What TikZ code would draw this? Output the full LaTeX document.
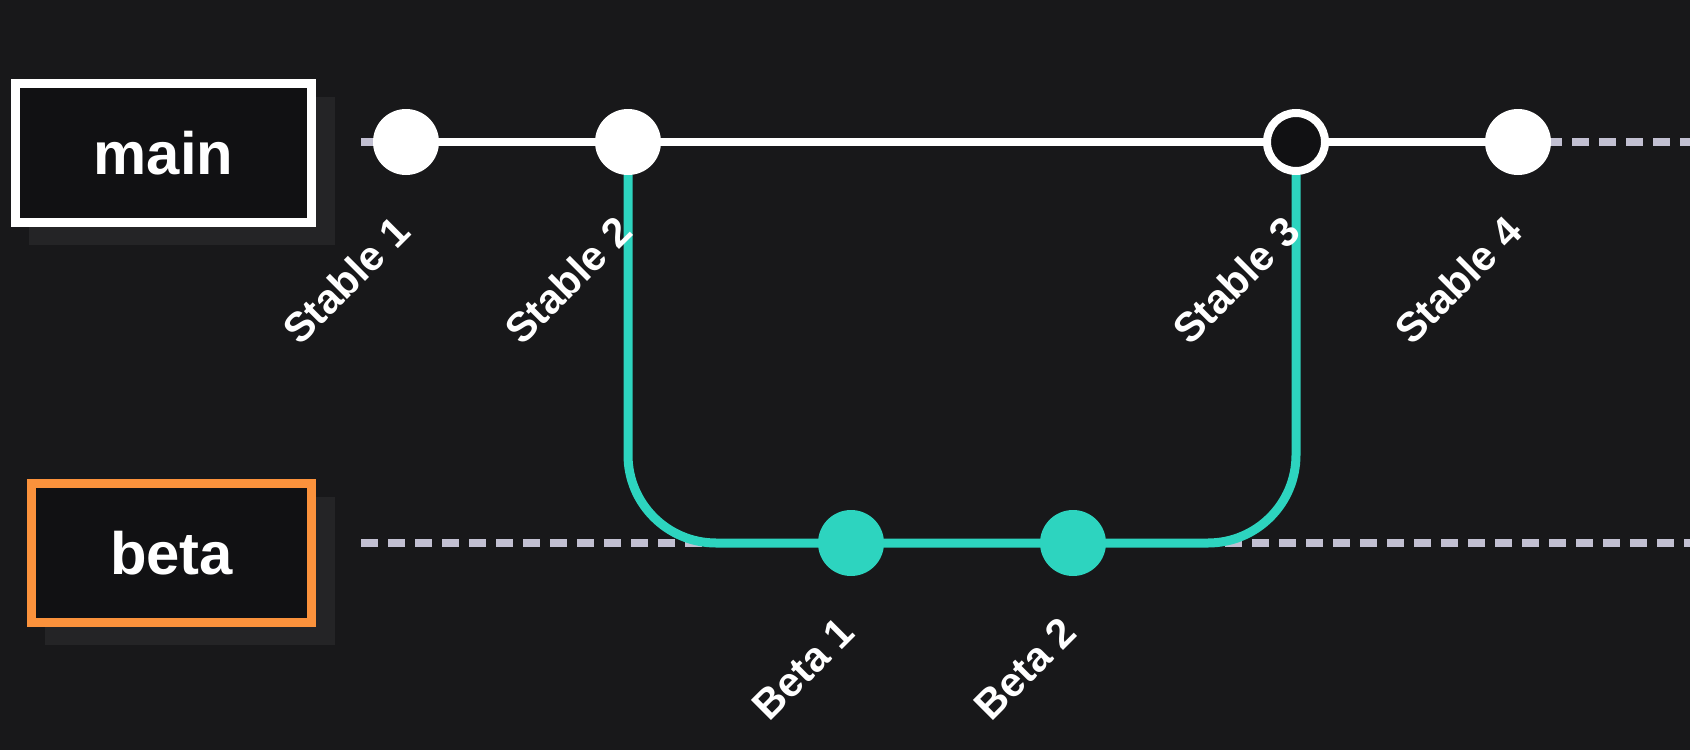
\documentclass[tikz,border=0pt]{standalone}
\usepackage{fontspec}
\setmainfont{Liberation Sans}
\definecolor{bgc}{HTML}{18181A}
\definecolor{boxfill}{HTML}{111113}
\definecolor{shadowc}{HTML}{242426}
\definecolor{tealc}{HTML}{2DD4BF}
\definecolor{orangec}{HTML}{FB923C}
\definecolor{dashc}{HTML}{C2C0D2}
\begin{document}
\begin{tikzpicture}[x=1bp,y=-1bp,
  commit/.style={circle, fill=white, minimum size=66bp, inner sep=0pt},
  betacommit/.style={circle, fill=tealc, minimum size=66bp, inner sep=0pt},
  opencommit/.style={circle, fill=boxfill, draw=white, line width=8bp, minimum size=58bp, inner sep=0pt},
  branchbox/.style={fill=boxfill, line width=9bp, minimum height=139bp, inner sep=0pt,
     text=white, font=\bfseries\fontsize{60}{72}\selectfont},
  lbl/.style={text=white, font=\bfseries\fontsize{41.5}{50}\selectfont, rotate=45, anchor=east, inner sep=0pt},
  dashline/.style={draw=dashc, line width=8bp, dash pattern=on 17bp off 10bp},
  mainline/.style={draw=white, line width=8.5bp},
  betaline/.style={draw=tealc, line width=9bp, rounded corners=88bp}]
\fill[bgc] (0,0) rectangle (1690,750);
\useasboundingbox (0,0) rectangle (1690,750);
% shadows
\fill[shadowc] (29,97) rectangle (335,245);
\fill[shadowc] (45,497) rectangle (335,645);
% coordinates
\coordinate (p1) at (406,142);
\coordinate (p2) at (628,142);
\coordinate (p3) at (1296,142);
\coordinate (p4) at (1518,142);
\coordinate (q1) at (851,543);
\coordinate (q2) at (1073,543);
\coordinate (ms) at (361,142);
\coordinate (me) at (1690,142);
\coordinate (bs) at (361,543);
\coordinate (be) at (1690,543);
% lines
\draw[dashline] (ms) -- (p1);
\draw[dashline] (p4) -- (me);
\draw[dashline] (bs) -- (be);
\draw[mainline] (p1) -- (p4);
\draw[betaline] (p2) -- (p2 |- q1) -- (p3 |- q1) -- (p3);
% branch boxes
\node[branchbox, draw=white, minimum width=296bp] (main) at (163.5,153) {main};
\node[branchbox, draw=orangec, minimum width=280bp] (beta) at (171.5,553) {beta};
% commits
\node[commit] (s1) at (p1) {};
\node[commit] (s2) at (p2) {};
\node[opencommit] (s3) at (p3) {};
\node[commit] (s4) at (p4) {};
\node[betacommit] (b1) at (q1) {};
\node[betacommit] (b2) at (q2) {};
% labels
\node[lbl] (l1) at (402,224) {Stable 1};
\node[lbl] (l2) at (624,224) {Stable 2};
\node[lbl] (l3) at (1292,224) {Stable 3};
\node[lbl] (l4) at (1514,224) {Stable 4};
\node[lbl] (l5) at (847,625) {Beta 1};
\node[lbl] (l6) at (1069,625) {Beta 2};
\end{tikzpicture}
\end{document}
